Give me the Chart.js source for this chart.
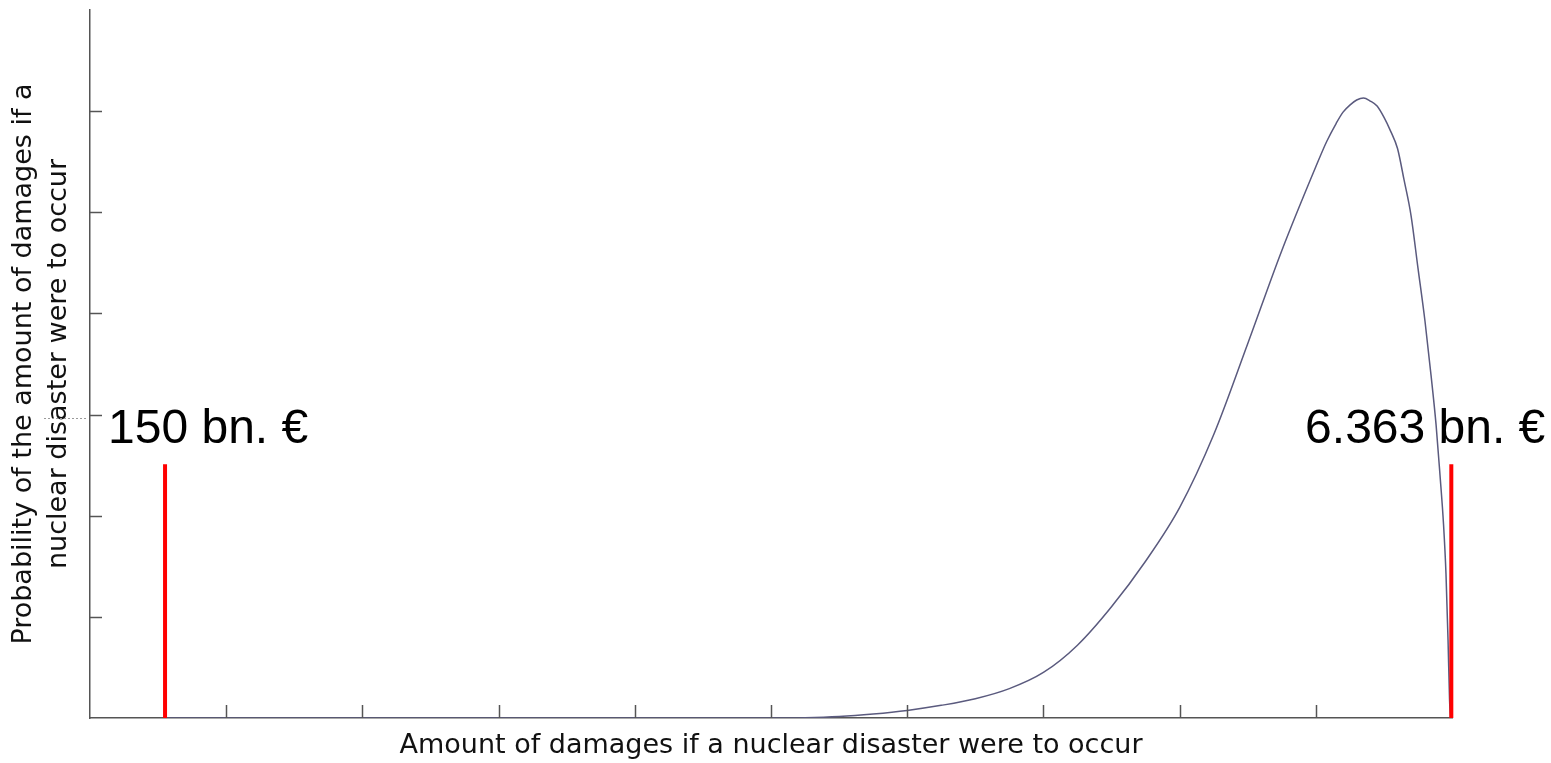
<!DOCTYPE html>
<html>
<head>
<meta charset="utf-8">
<script src="https://cdn.jsdelivr.net/npm/chart.js@4"></script>
<style>
html, body { margin: 0; padding: 0; background: #ffffff; }
#wrap { width: 1551px; height: 763px; position: relative; }
</style>
</head>
<body>
<div id="wrap"><canvas id="c"></canvas></div>
<script>
// ---- data ----
const xValues = [0.551, 1, 2, 3, 4, 5, 5.25, 5.5, 5.75, 6, 6.25, 6.5, 6.75, 7, 7.25, 7.5, 7.75, 8, 8.25, 8.5, 8.75, 9, 9.08, 9.15, 9.2, 9.25, 9.3, 9.35, 9.4, 9.45, 9.5, 9.55, 9.6, 9.648, 9.699, 9.75, 9.802, 9.846, 9.883, 9.912, 9.938, 9.956, 9.971, 9.982, 9.989];
const yValues = [0, 0, 0, 0, 0, 0, 0.003, 0.015, 0.04, 0.075, 0.125, 0.19, 0.29, 0.45, 0.72, 1.1, 1.55, 2.08, 2.8, 3.7, 4.62, 5.45, 5.7, 5.88, 5.99, 6.06, 6.11, 6.13, 6.1, 6.05, 5.94, 5.8, 5.63, 5.32, 4.97, 4.45, 3.92, 3.39, 2.9, 2.4, 1.91, 1.42, 0.77, 0.18, 0];
const markerX = [0.551, 9.995];
const markerHeight = 2.51;
const markerLabels = ["150 bn. €", "6.363 bn. €"];
const xTickValues = [1, 2, 3, 4, 5, 6, 7, 8, 9];
const yTickValues = [1, 2, 3, 4, 5, 6];
const xTitle = "Amount of damages if a nuclear disaster were to occur";
const yTitle = ["Probability of the amount of damages if a", "nuclear disaster were to occur"];

const curvePoints = xValues.map((x, i) => ({ x: x, y: yValues[i] }));
const markerSets = markerX.map(x => [{ x: x, y: 0 }, { x: x, y: markerHeight }]);

const axisColor = '#555555';
const titleFont = { family: 'DejaVu Sans', size: 27, lineHeight: 1.28 };

const decorPlugin = {
  id: 'decor',
  afterDatasetsDraw(chart) {
    const { ctx } = chart;
    const xs = chart.scales.x, ys = chart.scales.y;
    ctx.save();
    // inward tick marks
    ctx.strokeStyle = axisColor;
    ctx.lineWidth = 1.5;
    xTickValues.forEach(v => {
      const p = Math.round(xs.getPixelForValue(v)) + 0.5;
      ctx.beginPath();
      ctx.moveTo(p, ys.bottom);
      ctx.lineTo(p, ys.bottom - 13);
      ctx.stroke();
    });
    yTickValues.forEach(v => {
      const p = Math.round(ys.getPixelForValue(v)) + 0.5;
      ctx.beginPath();
      ctx.moveTo(xs.left, p);
      ctx.lineTo(xs.left + 12, p);
      ctx.stroke();
    });
    // faint dotted stub left of the axis
    ctx.strokeStyle = '#9a9a9a';
    ctx.lineWidth = 1;
    ctx.setLineDash([2, 2]);
    const dy = Math.round(ys.getPixelForValue(3)) + 3.5;
    ctx.beginPath();
    ctx.moveTo(xs.left - 46, dy);
    ctx.lineTo(xs.left - 2, dy);
    ctx.stroke();
    ctx.setLineDash([]);
    // marker labels
    ctx.fillStyle = '#000000';
    ctx.font = '48px "Liberation Sans", Arial, sans-serif';
    ctx.textBaseline = 'alphabetic';
    const topPix = ys.getPixelForValue(markerHeight);
    ctx.textAlign = 'left';
    ctx.fillText(markerLabels[0], xs.getPixelForValue(markerX[0]) - 57, topPix - 21);
    ctx.textAlign = 'right';
    ctx.fillText(markerLabels[1], xs.getPixelForValue(markerX[1]) + 94, topPix - 21);
    ctx.restore();
  }
};

new Chart(document.getElementById('c'), {
  type: 'line',
  data: {
    datasets: [
      { data: markerSets[0], borderColor: '#ff0000', borderWidth: 4, pointRadius: 0, clip: false, order: 0 },
      { data: markerSets[1], borderColor: '#ff0000', borderWidth: 4, pointRadius: 0, clip: false, order: 0 },
      { data: curvePoints, borderColor: '#5a5a7e', borderWidth: 1.5, pointRadius: 0, cubicInterpolationMode: 'monotone', order: 1 }
    ]
  },
  options: {
    responsive: true,
    maintainAspectRatio: false,
    animation: false,
    layout: { padding: { top: 10, right: 99, left: 0, bottom: 0 } },
    plugins: { legend: { display: false }, tooltip: { enabled: false } },
    scales: {
      x: {
        type: 'linear', min: 0, max: 10,
        ticks: { display: false },
        grid: { display: false },
        border: { display: true, color: axisColor, width: 1.5 },
        title: { display: true, text: xTitle, color: '#111111', font: titleFont, padding: { top: 0, bottom: 0 } },
        afterFit(s) { s.height = 45; }
      },
      y: {
        type: 'linear', min: 0, max: 7,
        ticks: { display: false },
        grid: { display: false },
        border: { display: true, color: axisColor, width: 1.5 },
        title: { display: true, text: yTitle, color: '#111111', font: titleFont, padding: { top: 7, bottom: 0 } },
        afterFit(s) { s.width = 90; }
      }
    }
  },
  plugins: [decorPlugin]
});
</script>
</body>
</html>
